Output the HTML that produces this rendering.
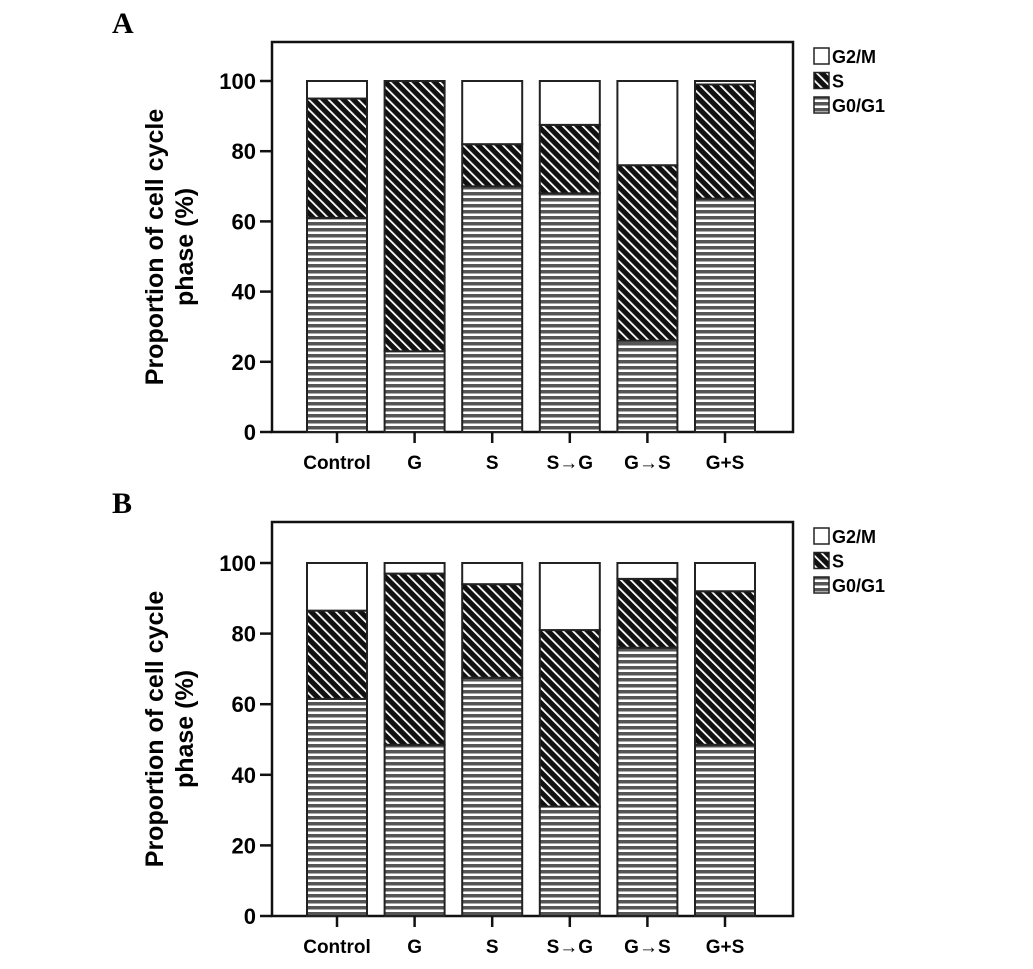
<!DOCTYPE html>
<html><head><meta charset="utf-8"><style>
body{margin:0;background:#fff}
text{font-family:"Liberation Sans",Arial,sans-serif;font-weight:bold}
</style></head><body>
<svg id="chart" width="1033" height="964" xmlns="http://www.w3.org/2000/svg">
<defs>
<pattern id="horiz" width="8" height="6" patternUnits="userSpaceOnUse"><rect width="8" height="6" fill="#fff"/><rect y="0" width="8" height="3.5" fill="#555"/></pattern>
<pattern id="diag" width="7" height="7" patternUnits="userSpaceOnUse" patternTransform="rotate(-45)"><rect width="7" height="7" fill="#111"/><rect x="0" width="1.8" height="7" fill="#fff"/></pattern>
</defs>
</svg>
<script>
const categories=["Control","G","S","S\u2192G","G\u2192S","G+S"];
const yTicks=[0,20,40,60,80,100];
const aG0G1=[61,23,70,68,26,66.5];
const aS=[34,77,12,19.5,50,32.5];
const aG2M=[5,0,18,12.5,24,1];
const bG0G1=[61.5,48.5,67.5,31,76,48.5];
const bS=[25,48.5,26.5,50,19.5,43.5];
const bG2M=[13.5,3,6,19,4.5,8];
const svg=document.getElementById('chart');
const NS='http://www.w3.org/2000/svg';
function mk(tag,attrs,parent){const e=document.createElementNS(NS,tag);for(const k in attrs)e.setAttribute(k,attrs[k]);(parent||svg).appendChild(e);return e;}
function panel(label,top,zeroY,ppu,g0,s,g2){
  const g=mk('g',{});
  
  
  const y=v=>zeroY-v*ppu;
  const x=i=>337+i*77.6;
  const L=mk('text',{x:112,y:top-9,'font-size':30,style:'font-family:"Liberation Serif",serif'},g);L.textContent=label;
  
  
  const frame=mk('rect',{x:272,y:top,width:521,height:zeroY-top,fill:'none',stroke:'#111','stroke-width':2.5},g);
  
  
  yTicks.forEach(t=>{
    mk('line',{x1:260,x2:272,y1:y(t),y2:y(t),stroke:'#111','stroke-width':2.5},g);
    const tx=mk('text',{x:256,y:y(t)+8,'font-size':22,'text-anchor':'end'},g);tx.textContent=t;
    
    
  });
  categories.forEach((c,i)=>{
    const segs=[[0,g0[i],'url(#horiz)','g0g1'],[g0[i],g0[i]+s[i],'url(#diag)','s'],[g0[i]+s[i],g0[i]+s[i]+g2[i],'#fff','g2m']];
    segs.forEach(sg=>{
      if(sg[1]-sg[0]<=0)return;
      const r=mk('rect',{x:x(i)-30,y:y(sg[1]),width:60,height:(sg[1]-sg[0])*ppu,fill:sg[2],stroke:'#222','stroke-width':2},g);
      
      
    });
    mk('line',{x1:x(i),x2:x(i),y1:zeroY,y2:zeroY+11,stroke:'#111','stroke-width':2.5},g);
    const cl=mk('text',{x:x(i),y:zeroY+37,'font-size':19,'text-anchor':'middle'},g);cl.textContent=c;
    
    
  });
  const mid=(top+zeroY)/2+10;
  const yt=mk('text',{transform:`translate(163,${mid}) rotate(-90)`,'font-size':25,'text-anchor':'middle'},g);yt.textContent='Proportion of cell cycle';
  
  
  const yt2=mk('text',{transform:`translate(193,${mid}) rotate(-90)`,'font-size':25,'text-anchor':'middle'},g);yt2.textContent='phase (%)';
  
  
  const leg=[['#fff','G2/M'],['url(#diag)','S'],['url(#horiz)','G0/G1']];
  leg.forEach((l,k)=>{
    const ly=top+6+k*24.5;
    const r=mk('rect',{x:814,y:ly,width:15,height:16,fill:l[0],stroke:'#222','stroke-width':1.5},g);
    
    
    const t=mk('text',{x:832,y:ly+15,'font-size':18},g);t.textContent=l[1];
    
    
  });
}
panel('A',42,432,3.51,aG0G1,aS,aG2M);
panel('B',522,916,3.53,bG0G1,bS,bG2M);
</script>
</body></html>
